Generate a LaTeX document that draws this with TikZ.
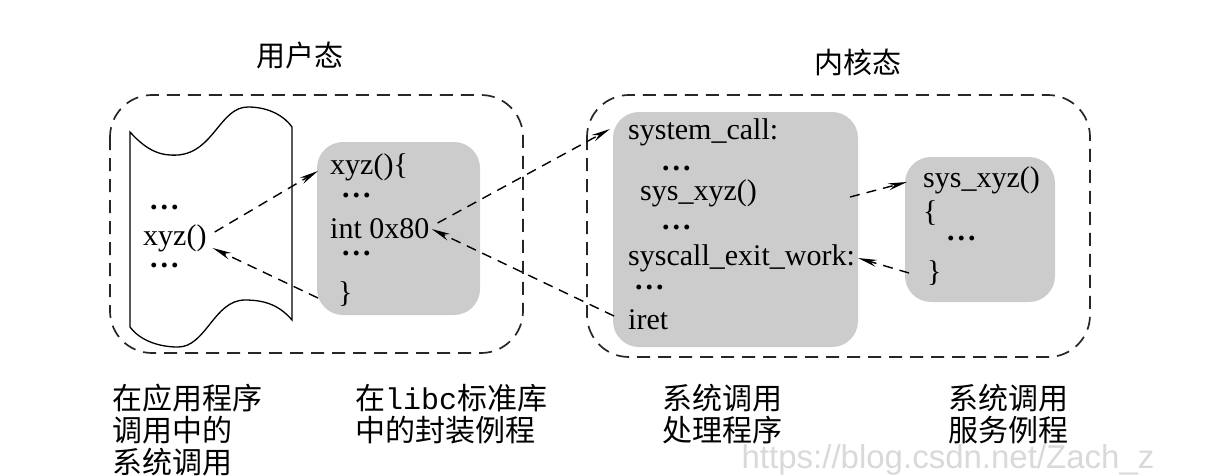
\documentclass[tikz,border=0pt]{standalone}
\usepackage{fontspec}
\setmainfont{Liberation Serif}
\setsansfont{Liberation Sans}
\setmonofont{Liberation Mono}
\newfontfamily\cjk{Noto Sans CJK SC}
\usepackage{xcolor}
\usetikzlibrary{arrows.meta,positioning}
\definecolor{codegrey}{RGB}{204,204,204}
\newcommand{\codedots}{\textbf{.\kern3pt.\kern3pt.}}
\tikzset{
  modebox/.style={draw=black!85,line width=1.7pt,dash pattern=on 13pt off 8pt,
    rounded corners=42pt},
  codebox/.style={fill=codegrey,rounded corners=26pt},
  codeline/.style={anchor=west,inner sep=0pt,font=\fontsize{30}{32}\selectfont},
  modetitle/.style={inner sep=0pt,font=\cjk\fontsize{29}{32}\selectfont},
  captiontext/.style={anchor=north west,align=left,inner sep=0pt,
    font=\cjk\fontsize{30}{32}\selectfont},
  callarrow/.style={-{Stealth[length=19pt,width=7pt]},line width=1.4pt,
    dash pattern=on 10pt off 7pt}
}

\begin{document}
\begin{tikzpicture}[x=1pt,y=-1pt]
  \useasboundingbox (0,0) rectangle (1225,475);

  % 两个状态的虚线框
  \node[modetitle] (usertitle) at (300,55) {用户态};
  \node[modetitle] (kerntitle) at (858,62) {内核态};
  \draw[modebox] (110,95) rectangle (523,353);
  \draw[modebox] (587,95) rectangle (1090,357);

  % 应用程序：上下为波形边的纸卷
  \draw[line width=1.3pt] (130,132) .. controls (148,152) and (162,156) .. (178,155)
    .. controls (214,152) and (220,107) .. (248,107)
    .. controls (270,107) and (285,117) .. (292,127) -- (292,320)
    .. controls (280,306) and (266,300) .. (245,300)
    .. controls (214,300) and (206,347) .. (178,347)
    .. controls (155,347) and (138,338) .. (130,327) -- cycle;
  \node[codeline] (appdots1) at (150,207) {\codedots};
  \node[codeline] (appcall) at (143,238) {xyz()};
  \node[codeline] (appdots2) at (150,265) {\codedots};

  % libc 中的封装例程
  \fill[codebox] (317,142) rectangle (480,315);
  \node[codeline] (wrapname) at (330,167) {xyz()\{};
  \node[codeline] (wrapdots1) at (342,195) {\codedots};
  \node[codeline] (wrapint) at (330,229) {int 0x80};
  \node[codeline] (wrapdots2) at (342,253) {\codedots};
  \node[codeline] (wrapend) at (338,294) {\}};

  % 系统调用处理程序
  \fill[codebox] (613,112) rectangle (858,347);
  \node[codeline] (handentry) at (628,132) {system\_call:};
  \node[codeline] (handdots1) at (662,168) {\codedots};
  \node[codeline] (handcall) at (640,193) {sys\_xyz()};
  \node[codeline] (handdots2) at (662,227) {\codedots};
  \node[codeline] (handexit) at (628,258) {syscall\_exit\_work:};
  \node[codeline] (handdots3) at (635,287) {\codedots};
  \node[codeline] (handiret) at (628,320) {iret};

  % 系统调用服务例程
  \fill[codebox] (905,157) rectangle (1055,302);
  \node[codeline] (svcname) at (923,180) {sys\_xyz()};
  \node[codeline] (svcopen) at (923,213) {\{};
  \node[codeline] (svcdots) at (947,238) {\codedots};
  \node[codeline] (svcend) at (927,273) {\}};

  % 调用与返回
  \draw[callarrow] ([xshift=8pt,yshift=6pt]appcall.east) -- ([xshift=-12pt,yshift=-4pt]wrapname.west);
  \draw[callarrow] ([xshift=-20pt,yshift=-4pt]wrapend.west) -- ([xshift=6pt,yshift=-10pt]appcall.east);
  \draw[callarrow] ([xshift=8pt,yshift=6pt]wrapint.east) -- ([xshift=-18pt,yshift=3pt]handentry.west);
  \draw[callarrow] ([xshift=-14pt,yshift=4pt]handiret.west) -- ([xshift=2pt]wrapint.east);
  \draw[callarrow] ([xshift=93pt,yshift=-4pt]handcall.east) -- ([xshift=-16pt,yshift=-2pt]svcname.west);
  \draw[callarrow] ([xshift=-18pt]svcend.west) -- ([xshift=3pt]handexit.east);

  % 下方说明文字
  \node[captiontext] (appcaption) at (112,384) {在应用程序\\调用中的\\系统调用};
  \node[captiontext] (wrapcaption) at (355,384) {在{\ttfamily libc}标准库\\中的封装例程};
  \node[captiontext] (handcaption) at (662,384) {系统调用\\处理程序};
  \node[captiontext] (svccaption) at (948,384) {系统调用\\服务例程};
  \node[inner sep=0pt,font=\sffamily\fontsize{33}{36}\selectfont,text=black!15]
    (watermark) at (948,460) {https://blog.csdn.net/Zach\_z};
\end{tikzpicture}
\end{document}
